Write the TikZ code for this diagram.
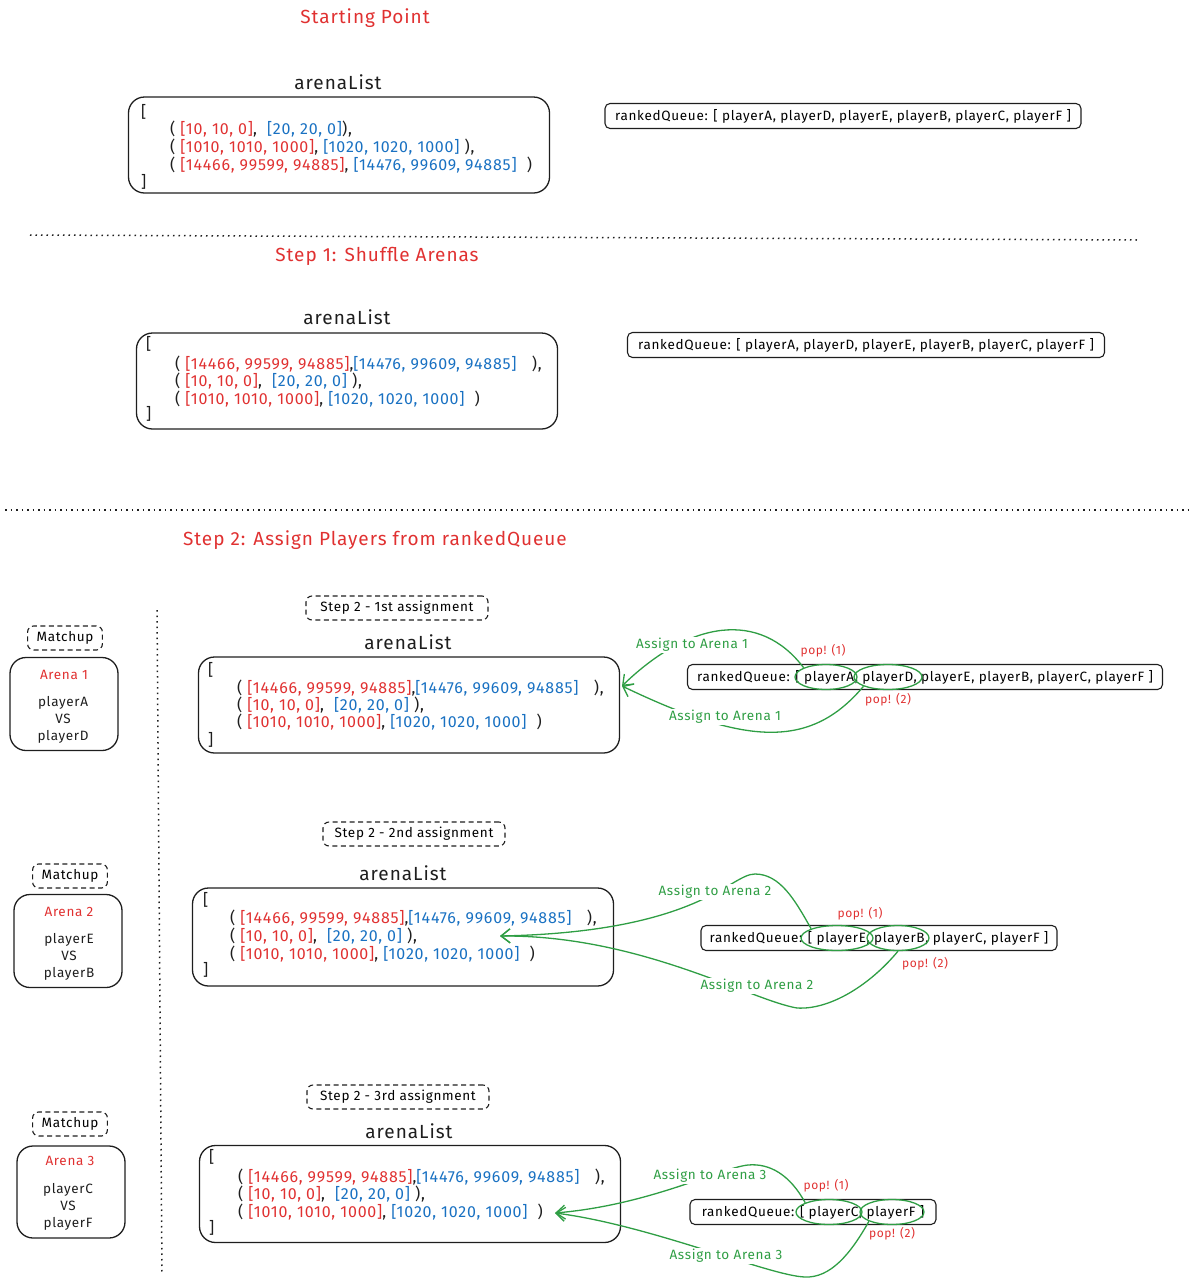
\documentclass[tikz,border=0pt]{standalone}
\usepackage{fontspec}
\setmainfont{Fira Sans}[LetterSpace=5]
\usetikzlibrary{arrows.meta, positioning, shapes.geometric}

\definecolor{exred}{HTML}{E03131}
\definecolor{exblue}{HTML}{1971C2}
\definecolor{exgreen}{HTML}{2F9E44}
\definecolor{exink}{HTML}{1E1E1E}

\newcommand{\redv}[1]{\textcolor{exred}{#1}}
\newcommand{\bluev}[1]{\textcolor{exblue}{#1}}

\begin{document}
\begin{tikzpicture}[x=1pt, y=-1pt,
  listbox/.style={draw=exink, line width=1.3pt, rounded corners=16pt, minimum width=421pt, minimum height=96pt},
  queuebox/.style={draw=exink, line width=1.1pt, rounded corners=5pt, minimum height=25pt, inner sep=3pt, font=\fontsize{13.5}{15}\selectfont},
  tagbox/.style={draw=exink, dash pattern=on 5pt off 3.5pt, line width=1.1pt, rounded corners=6pt, minimum height=24pt, inner ysep=4pt, inner xsep=9pt, font=\fontsize{13.5}{15}\selectfont},
  steptag/.style={tagbox, minimum width=182pt},
  arenabox/.style={draw=exink, line width=1.3pt, rounded corners=16pt, minimum width=108pt, minimum height=93pt},
  title/.style={text=exred, font=\fontsize{19}{22}\selectfont},
  heading/.style={text=exink, font=\fontsize{19}{22}\selectfont},
  row/.style={anchor=west, inner sep=0pt, text=exink, font=\fontsize{16}{18}\selectfont},
  arenaname/.style={text=exred, font=\fontsize{13.5}{15}\selectfont},
  vsline/.style={align=center, text=exink, font=\fontsize{13.5}{17}\selectfont},
  pick/.style={ellipse, draw=exgreen, line width=1.3pt, minimum height=25pt, inner sep=0pt},
  popnote/.style={text=exred, font=\fontsize{12}{14}\selectfont},
  assign/.style={exgreen, line width=1.3pt, -{Straight Barb[length=9pt, width=14pt]}},
  assignnote/.style={text=exgreen, fill=white, inner sep=1pt, font=\fontsize{13.5}{15}\selectfont},
  sep/.style={dash pattern=on 1.5pt off 4pt, line width=1.5pt, exink},
]
\useasboundingbox (0,0) rectangle (1200,1286);

%% ============ STARTING POINT ============
\node[title] (t0) at (365,18) {Starting Point};
\node[heading] (h0) at (338,82) {arenaList};
\node[listbox] (list0) at (339,145) {};
\node[row] (l0a) at (141,112) {[};
\node[row] (l0b) at (170,129) {( \redv{[10, 10, 0]},\ \ \bluev{[20, 20, 0]}),};
\node[row] (l0c) at (170,147) {( \redv{[1010, 1010, 1000]}, \bluev{[1020, 1020, 1000]} ),};
\node[row] (l0d) at (170,165) {( \redv{[14466, 99599, 94885]}, \bluev{[14476, 99609, 94885]}\ \ )};
\node[row] (l0e) at (141,182) {]};

\node[queuebox, minimum width=476pt] (q0) at (843,116)
  {rankedQueue: [ playerA, playerD, playerE, playerB, playerC, playerF ]};

\draw[sep] (30,235) -- (1138,240);

%% ============ STEP 1 ============
\node[title] (t1) at (377,256) {Step 1: Shuffle Arenas};
\node[heading] (h1) at (347,317) {arenaList};
\node[listbox] (list1) at (347,381) {};
\node[row] (l1a) at (146,344) {[};
\node[row] (l1b) at (175,364) {( \redv{[14466, 99599, 94885]},\bluev{[14476, 99609, 94885]}\ \ \ ),};
\node[row] (l1c) at (175,381) {( \redv{[10, 10, 0]},\ \ \bluev{[20, 20, 0]} ),};
\node[row] (l1d) at (175,399) {( \redv{[1010, 1010, 1000]}, \bluev{[1020, 1020, 1000]}\ \ )};
\node[row] (l1e) at (146,414) {]};

\node[queuebox, minimum width=477pt] (q1) at (866,345)
  {rankedQueue: [ playerA, playerD, playerE, playerB, playerC, playerF ]};

\draw[sep] (5,510) -- (1192,510);

%% ============ STEP 2 ============
\node[title] (t2) at (375,540) {Step 2: Assign Players from rankedQueue};
\draw[sep] (157,610) -- (162,1275);

%% ---- 1st assignment ----
\node[steptag] (s1) at (397,608) {Step 2 - 1st assignment};
\node[heading] (h2) at (408,642) {arenaList};
\node[listbox] (list2) at (409,705) {};
\node[row] (l2a) at (208,670) {[};
\node[row] (l2b) at (237,688) {( \redv{[14466, 99599, 94885]},\bluev{[14476, 99609, 94885]}\ \ \ ),};
\node[row] (l2c) at (237,705) {( \redv{[10, 10, 0]},\ \ \bluev{[20, 20, 0]} ),};
\node[row] (l2d) at (237,722) {( \redv{[1010, 1010, 1000]}, \bluev{[1020, 1020, 1000]}\ \ )};
\node[row] (l2e) at (208,740) {]};

\node[tagbox] (m1) at (65,638) {Matchup};
\node[arenabox] (a1) at (64,704) {};
\node[arenaname] (a1t) at (64,675) {Arena 1};
\node[vsline] (a1p) at (63,720) {playerA\\VS\\playerD};

\node[queuebox, minimum width=475pt] (q2) at (925,677)
  {rankedQueue: [ playerA, playerD, playerE, playerB, playerC, playerF ]};
\node[pick, minimum width=62pt] (pA) at (826,677) {};
\node[pick, minimum width=68pt] (pD) at (888,677) {};
\node[popnote] (pop1a) at (823,651) {pop! (1)};
\node[popnote] (pop1b) at (888,700) {pop! (2)};

\coordinate (in1) at (622,686);
\draw[assign] (pA.north west) .. controls (760,610) and (690,620) .. (in1);
\draw[assign] (pD.south west) .. controls (810,750) and (745,745) .. (in1);
\node[assignnote] (as1a) at (692,645) {Assign to Arena 1};
\node[assignnote] (as1b) at (725,717) {Assign to Arena 1};

%% ---- 2nd assignment ----
\node[steptag] (s2) at (414,834) {Step 2 - 2nd assignment};
\node[heading] (h3) at (403,873) {arenaList};
\node[listbox, minimum height=98pt] (list3) at (403,937) {};
\node[row] (l3a) at (203,900) {[};
\node[row] (l3b) at (230,918) {( \redv{[14466, 99599, 94885]},\bluev{[14476, 99609, 94885]}\ \ \ ),};
\node[row] (l3c) at (230,936) {( \redv{[10, 10, 0]},\ \ \bluev{[20, 20, 0]} ),};
\node[row] (l3d) at (230,954) {( \redv{[1010, 1010, 1000]}, \bluev{[1020, 1020, 1000]}\ \ )};
\node[row] (l3e) at (203,970) {]};

\node[tagbox] (m2) at (70,876) {Matchup};
\node[arenabox] (a2) at (68,941) {};
\node[arenaname] (a2t) at (69,912) {Arena 2};
\node[vsline] (a2p) at (69,957) {playerE\\VS\\playerB};

\node[queuebox, minimum width=356pt] (q3) at (879,938)
  {rankedQueue: [ playerE, playerB, playerC, playerF ]};
\node[pick, minimum width=72pt] (pE) at (837,938) {};
\node[pick, minimum width=62pt] (pB) at (898,938) {};
\node[popnote] (pop2a) at (860,914) {pop! (1)};
\node[popnote] (pop2b) at (925,964) {pop! (2)};

\coordinate (in2) at (500,936);
\draw[assign] (pE.north west) .. controls (795,900) and (780,874) .. (755,874)
  .. controls (730,874) and (700,932) .. (in2);
\draw[assign] (pB.south) .. controls (870,985) and (830,1010) .. (797,1008)
  .. controls (750,1000) and (640,935) .. (in2);
\node[assignnote] (as2a) at (715,892) {Assign to Arena 2};
\node[assignnote] (as2b) at (757,986) {Assign to Arena 2};

%% ---- 3rd assignment ----
\node[steptag] (s3) at (398,1097) {Step 2 - 3rd assignment};
\node[heading] (h4) at (409,1131) {arenaList};
\node[listbox, minimum height=97pt] (list4) at (410,1194) {};
\node[row] (l4a) at (209,1157) {[};
\node[row] (l4b) at (238,1177) {( \redv{[14466, 99599, 94885]},\bluev{[14476, 99609, 94885]}\ \ \ ),};
\node[row] (l4c) at (238,1194) {( \redv{[10, 10, 0]},\ \ \bluev{[20, 20, 0]} ),};
\node[row] (l4d) at (238,1212) {( \redv{[1010, 1010, 1000]}, \bluev{[1020, 1020, 1000]}\ \ )};
\node[row] (l4e) at (209,1228) {]};

\node[tagbox] (m3) at (70,1124) {Matchup};
\node[arenabox, minimum height=92pt] (a3) at (71,1192) {};
\node[arenaname] (a3t) at (70,1161) {Arena 3};
\node[vsline] (a3p) at (68,1207) {playerC\\VS\\playerF};

\node[queuebox, minimum width=246pt] (q4) at (813,1212)
  {rankedQueue: [ playerC, playerF ]};
\node[pick, minimum width=66pt] (pC) at (829,1212) {};
\node[pick, minimum width=64pt] (pF) at (892,1212) {};
\node[popnote] (pop3a) at (826,1186) {pop! (1)};
\node[popnote] (pop3b) at (892,1234) {pop! (2)};

\coordinate (in3) at (555,1213);
\draw[assign] (pC.north west) .. controls (790,1175) and (770,1163) .. (748,1165)
  .. controls (720,1168) and (650,1205) .. (in3);
\draw[assign] (pF.south west) .. controls (850,1255) and (830,1278) .. (805,1277)
  .. controls (770,1276) and (650,1225) .. (in3);
\node[assignnote] (as3a) at (710,1176) {Assign to Arena 3};
\node[assignnote] (as3b) at (726,1256) {Assign to Arena 3};

\end{tikzpicture}
\end{document}
